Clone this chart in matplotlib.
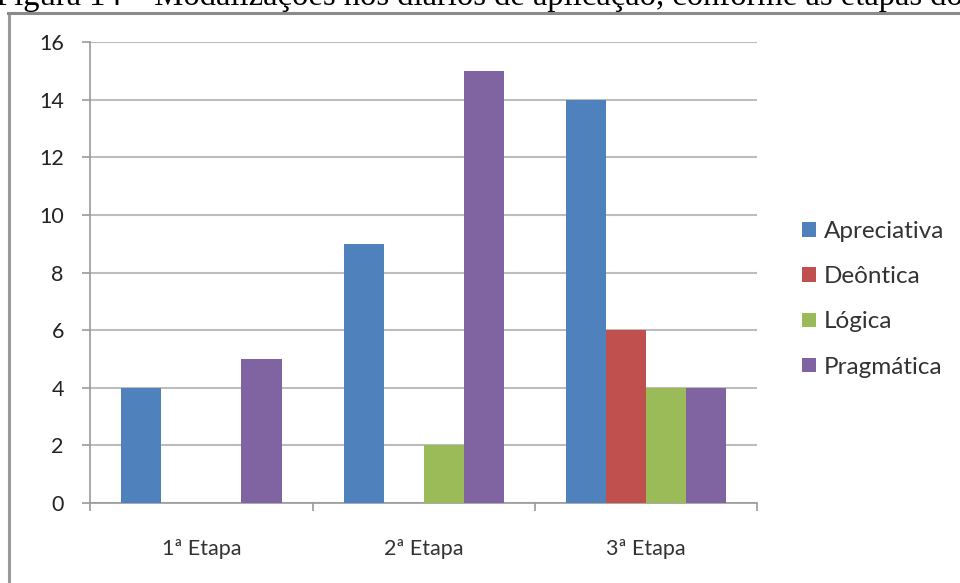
import matplotlib.pyplot as plt
import numpy as np

etapas = ['1ª Etapa', '2ª Etapa', '3ª Etapa']
apreciativa = [4, 9, 14]
deontica = [0, 0, 6]
logica = [0, 2, 4]
pragmatica = [5, 15, 4]

series = [('Apreciativa', apreciativa, '#4F81BD'),
          ('Deôntica', deontica, '#C0504D'),
          ('Lógica', logica, '#9BBB59'),
          ('Pragmática', pragmatica, '#8064A2')]

fig = plt.figure(figsize=(9.6, 5.83), dpi=100)

# título da figura (cortado no topo) e moldura do gráfico
fig.text(-0.004, 0.991, 'Figura 14 – Modalizações nos diários de aplicação, conforme as etapas do',
         family='Liberation Serif', fontsize=23.5, va='baseline', ha='left')
fig.add_artist(plt.Line2D([0.0095, 0.0095], [-0.01, 0.978], color='#9a9a9a', lw=2.2,
                          transform=fig.transFigure))
fig.add_artist(plt.Line2D([0.0085, 1.01], [0.978, 0.978], color='#8a8a8a', lw=2.2,
                          transform=fig.transFigure))

ax = fig.add_axes([0.094, 0.137, 0.695, 0.791])
x = np.arange(len(etapas))
w = 0.18
for i, (nome, vals, cor) in enumerate(series):
    ax.bar(x + (i - 1.5) * w, vals, w, color=cor, label=nome, zorder=3)

ax.set_xlim(-0.5, 2.5)
ax.set_ylim(0, 16)
ax.set_yticks(range(0, 17, 2))
ax.set_xticks(x)
ax.set_xticklabels(etapas)
ax.set_xticks([-0.5, 0.5, 1.5, 2.5], minor=True)
ax.tick_params(axis='x', which='major', length=0, pad=26)
ax.tick_params(axis='x', which='minor', length=6, color='#9a9a9a', width=1.2)
ax.tick_params(axis='y', length=6, color='#9a9a9a', width=1.2, pad=13)
for lbl in ax.get_xticklabels():
    lbl.set_family('Lato')
    lbl.set_fontsize(15.5)
    lbl.set_color('#333333')
for lbl in ax.get_yticklabels():
    lbl.set_family('Lato')
    lbl.set_fontsize(15.5)
    lbl.set_color('#222222')

ax.grid(axis='y', color='#bdbdbd', lw=1.5, zorder=0)
for s in ['top', 'right']:
    ax.spines[s].set_visible(False)
ax.spines['left'].set_color('#9a9a9a')
ax.spines['bottom'].set_color('#9a9a9a')
ax.spines['left'].set_linewidth(1.2)
ax.spines['bottom'].set_linewidth(1.2)

ax.legend(loc='center left', bbox_to_anchor=(1.067, 0.442), frameon=False,
          prop={'family': 'Lato', 'size': 17.5}, handlelength=0.55, handleheight=0.55,
          handletextpad=0.35, labelspacing=1.0, borderpad=0, borderaxespad=0,
          labelcolor='#333333')

fig.savefig('out.png', dpi=100)
